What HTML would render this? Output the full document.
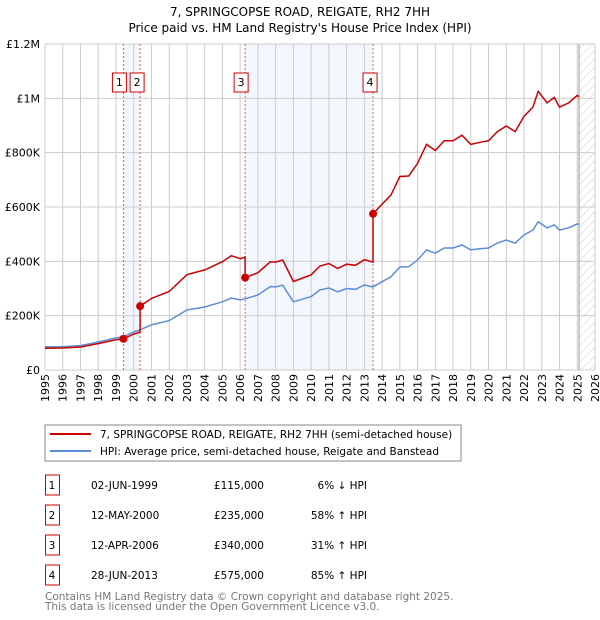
<!DOCTYPE html>
<html><head><meta charset="utf-8"><style>
body{margin:0;background:#fff;font-family:"DejaVu Sans","Liberation Sans",sans-serif;}
svg{display:block}
</style></head><body>
<svg id="c" width="600" height="620" viewBox="0 0 600 620" font-family="DejaVu Sans, Liberation Sans, sans-serif">
<text x="300" y="16" text-anchor="middle" font-size="12">7, SPRINGCOPSE ROAD, REIGATE, RH2 7HH</text>
<text x="300" y="32" text-anchor="middle" font-size="12">Price paid vs. HM Land Registry's House Price Index (HPI)</text>
<g id="plot"></g>
<rect x="45" y="425" width="416" height="36" fill="#fff" stroke="#888"/>
<line x1="50" y1="434" x2="91" y2="434" stroke="#cc0000" stroke-width="2"/>
<text x="100" y="438" font-size="10.5">7, SPRINGCOPSE ROAD, REIGATE, RH2 7HH (semi-detached house)</text>
<line x1="50" y1="451" x2="91" y2="451" stroke="#5b8ed6" stroke-width="2"/>
<text x="100" y="455" font-size="10.5">HPI: Average price, semi-detached house, Reigate and Banstead</text>
<g id="table" font-size="10.5"></g>
<text x="45" y="600" font-size="10.5" fill="#777">Contains HM Land Registry data © Crown copyright and database right 2025.</text>
<text x="45" y="610" font-size="10.5" fill="#777">This data is licensed under the Open Government Licence v3.0.</text>
</svg>
<script>
const hpiYears=[1995,1996,1997,1998,1999,1999.42,2000,2000.36,2001,2002,2003,2004,2005,2005.5,2006,2006.28,2007,2007.7,2008,2008.4,2009,2010,2010.5,2011,2011.5,2012,2012.5,2013,2013.49,2014,2014.5,2015,2015.5,2016,2016.5,2017,2017.5,2018,2018.5,2019,2019.5,2020,2020.5,2021,2021.5,2022,2022.5,2022.8,2023.3,2023.7,2024,2024.5,2025,2025.1];
const hpiValues=[85000,86000,90000,103000,118000,122000,140000,148000,166000,182000,221000,232000,251000,265000,258000,262000,276000,307000,306000,312000,251000,270000,295000,302000,288000,300000,297000,313000,306000,325000,343000,379000,380000,405000,442000,430000,449000,449000,460000,442000,446000,449000,467000,478000,467000,497000,515000,546000,523000,534000,515000,523000,538000,535000];
const saleDates=[1999.42,2000.36,2006.28,2013.49];
const salePrices=[115000,235000,340000,575000];
const saleLabels=["1","2","3","4"];
const saleDateText=["02-JUN-1999","12-MAY-2000","12-APR-2006","28-JUN-2013"];
const salePriceText=["£115,000","£235,000","£340,000","£575,000"];
const saleHpiText=["6% ↓ HPI","58% ↑ HPI","31% ↑ HPI","85% ↑ HPI"];
const yTicks=[0,200000,400000,600000,800000,1000000,1200000];
const yTickLabels=["£0","£200K","£400K","£600K","£800K","£1M","£1.2M"];

const X0=45,X1=595,Y0=370,Y1=44,xmin=1995,xmax=2026,ymax=1200000;
const xs=t=>X0+(t-xmin)/(xmax-xmin)*(X1-X0);
const ys=v=>Y0-v/ymax*(Y0-Y1);
const NS="http://www.w3.org/2000/svg";
const plot=document.getElementById('plot');
function mk(tag,at,par){const e=document.createElementNS(NS,tag);for(const k in at)e.setAttribute(k,at[k]);(par||plot).appendChild(e);return e;}
function hpiAt(t){for(let i=0;i<hpiYears.length-1;i++){if(t<=hpiYears[i+1]){const f=(t-hpiYears[i])/(hpiYears[i+1]-hpiYears[i]);return hpiValues[i]+f*(hpiValues[i+1]-hpiValues[i]);}}return hpiValues[hpiValues.length-1];}
let s1=mk('rect',{x:xs(saleDates[0]),y:Y1,width:xs(saleDates[1])-xs(saleDates[0]),height:Y0-Y1,fill:'#f3f6fd'});


let s2=mk('rect',{x:xs(saleDates[2]),y:Y1,width:xs(saleDates[3])-xs(saleDates[2]),height:Y0-Y1,fill:'#f3f6fd'});


const defs=mk('defs',{});
const pat=mk('pattern',{id:'hatch',width:6,height:6,patternUnits:'userSpaceOnUse',patternTransform:'rotate(45)'},defs);
mk('line',{x1:0,y1:0,x2:0,y2:6,stroke:'#ccc','stroke-width':1},pat);
const hx=xs(2025.1);
let h=mk('rect',{x:hx,y:Y1,width:X1-hx,height:Y0-Y1,fill:'url(#hatch)'});


for(let yr=xmin;yr<=xmax;yr++){
  let g=mk('line',{x1:xs(yr),x2:xs(yr),y1:Y1,y2:Y0,stroke:'#ccc','stroke-width':1});
  
  
  const tx=xs(yr)+4, ty=374;
  let t=mk('text',{x:tx,y:ty,'text-anchor':'end','font-size':11,transform:'rotate(-90 '+tx+' '+ty+')'});
  t.textContent=yr;
  
  
}
yTicks.forEach((v,i)=>{
  let g=mk('line',{x1:X0,x2:X1,y1:ys(v),y2:ys(v),stroke:'#ccc','stroke-width':1});
  
  
  let t=mk('text',{x:X0-5,y:ys(v)+4,'text-anchor':'end','font-size':11});
  t.textContent=yTickLabels[i];
  
  
});
let vl=mk('line',{x1:hx,x2:hx,y1:Y1,y2:Y0,stroke:'#999','stroke-width':1});


saleDates.forEach((d,i)=>{
  let l=mk('line',{x1:xs(d),x2:xs(d),y1:Y1,y2:Y0,stroke:'#e06060','stroke-width':1,'stroke-dasharray':'2,2'});
  
  
  let bx=xs(d)-(i==0?4:(i==1?-2:2))-(i==0?0:0);
  bx=[xs(d)-4,xs(d)-3,xs(d)-4,xs(d)-3][i];
  let r=mk('rect',{x:bx-7,y:73,width:14,height:19,fill:'#fff',stroke:'#cc0000'});
  
  
  let t=mk('text',{x:bx,y:86,'text-anchor':'middle','font-size':11});
  t.textContent=saleLabels[i];
  
  
});
let hp=hpiYears.map((t,i)=>xs(t).toFixed(1)+','+ys(hpiValues[i]).toFixed(1)).join(' ');
let hl=mk('polyline',{points:hp,fill:'none',stroke:'#5b8ed6','stroke-width':1.5});


let pts=[];
function seg(a,b,p,ref){hpiYears.forEach(t=>{if(t>=a&&t<=b)pts.push([t,p*hpiAt(t)/hpiAt(ref)]);});}
seg(xmin,saleDates[0],salePrices[0],saleDates[0]);
for(let i=0;i<4;i++){
  const end=i<3?saleDates[i+1]:2025.1;
  seg(saleDates[i],end,salePrices[i],saleDates[i]);
}
let pl=mk('polyline',{points:pts.map(p=>xs(p[0]).toFixed(1)+','+ys(p[1]).toFixed(1)).join(' '),fill:'none',stroke:'#cc0000','stroke-width':1.5});


saleDates.forEach((d,i)=>{
  let c=mk('circle',{cx:xs(d),cy:ys(salePrices[i]),r:4,fill:'#cc0000'});
  
  
});
const tb=document.getElementById('table');
saleDates.forEach((d,i)=>{
  const cy=483+i*30;
  let r=mk('rect',{x:45.5,y:cy-8,width:14,height:20,fill:'#fff',stroke:'#cc0000'},tb);
  
  
  const cells=[[52,'middle',saleLabels[i],'row-number'],[91,'start',saleDateText[i],'sale-date'],[264,'end',salePriceText[i],'sale-price'],[367,'end',saleHpiText[i],'hpi-diff']];
  cells.forEach(c=>{
    let t=mk('text',{x:c[0],y:cy+6,'text-anchor':c[1]},tb);
    t.textContent=c[2];
    
    
  });
});
</script>
</body></html>
